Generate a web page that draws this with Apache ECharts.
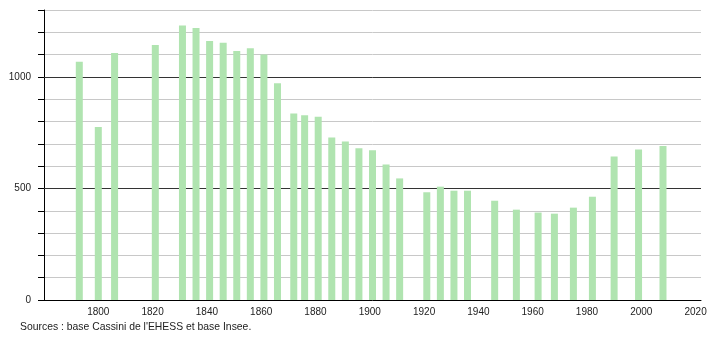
<!DOCTYPE html>
<html>
<head>
<meta charset="utf-8">
<script src="https://cdn.jsdelivr.net/npm/echarts@6/dist/echarts.min.js"></script>
<style>
html,body{margin:0;padding:0;background:#fff;}
#c{width:710px;height:340px;}
</style>
</head>
<body>
<div id="c"></div>
<script>
var years = [1793,1800,1806,1821,1831,1836,1841,1846,1851,1856,1861,1866,1872,1876,1881,1886,1891,1896,1901,1906,1911,1921,1926,1931,1936,1946,1954,1962,1968,1975,1982,1990,1999,2008];
var population = [1068,775,1107,1143,1230,1219,1161,1153,1116,1128,1100,972,836,828,822,729,711,680,671,607,545,483,508,490,490,445,405,392,387,414,463,643,675,690];
var yLabelValues = [0,500,1000];
var sourceText = "Sources : base Cassini de l'EHESS et base Insee.";

var chart = echarts.init(document.getElementById('c'), null, {renderer:'canvas'});
var data = years.map(function(y,i){return [y, population[i]];});
chart.setOption({
  animation:false,
  backgroundColor:'#ffffff',
  textStyle:{fontFamily:'Liberation Sans, Arial, sans-serif'},
  grid:{left:44, top:10, right:9, bottom:40, containLabel:false},
  xAxis:{
    type:'value', min:1780, max:2022, interval:20,
    axisLine:{show:true, lineStyle:{color:'#000', width:1}},
    axisTick:{show:false},
    splitLine:{show:false},
    axisLabel:{showMinLabel:false, showMaxLabel:true, color:'#222', fontSize:10, margin:7,
      fontFamily:'Liberation Sans, Arial, sans-serif',
      formatter:function(v){return (v>=1800 && v<=2020 && v%20===0) ? String(v) : '';}}
  },
  yAxis:{
    type:'value', min:0, max:1300, interval:100,
    axisLine:{show:true, lineStyle:{color:'#000', width:1}},
    axisTick:{show:true, length:6, lineStyle:{color:'#000'}},
    splitLine:{show:true, lineStyle:{color:'#c8c8c8', width:1}},
    axisLabel:{color:'#222', fontSize:10, margin:13,
      fontFamily:'Liberation Sans, Arial, sans-serif',
      formatter:function(v){return yLabelValues.indexOf(v)>=0 ? String(v) : '';}}
  },
  graphic:[{type:'text', left:20, top:322, style:{text:sourceText, fill:'#222', font:'10.4px Liberation Sans, Arial, sans-serif'}}],
  series:[{
    type:'bar', data:data, barWidth:7,
    itemStyle:{color:'#b0e4b0'},
    z:3,
    markLine:{
      silent:true, symbol:['none','none'], label:{show:false},
      lineStyle:{color:'#333', type:'solid', width:1},
      z:2,
      data:[{yAxis:500},{yAxis:1000}]
    }
  }]
});
</script>
</body>
</html>
